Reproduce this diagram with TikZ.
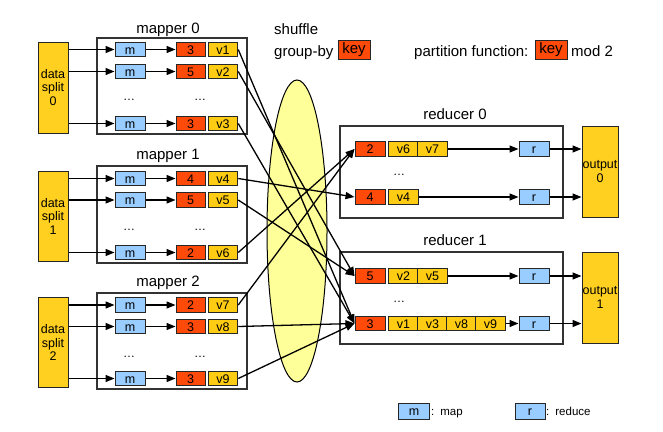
\documentclass[tikz,border=0pt]{standalone}
\usepackage{fontspec}
\setmainfont{Liberation Sans}
\usetikzlibrary{arrows.meta,shapes.geometric}
\definecolor{kred}{HTML}{FF4A0A}
\definecolor{vyel}{HTML}{FFCC14}
\definecolor{dyel}{HTML}{FFD020}
\definecolor{mblue}{HTML}{99CCFF}
\definecolor{ellyel}{HTML}{FFFF99}
\begin{document}
\begin{tikzpicture}[x=1pt,y=-1pt,
  cell/.style={draw=black!85,line width=1pt,minimum height=14.5pt,inner sep=0pt,
    text height=9pt,text depth=0pt,font=\fontsize{12.5}{13}\selectfont,anchor=center},
  mcell/.style={cell,fill=mblue,minimum width=30pt},
  kcell/.style={cell,fill=kred,minimum width=29pt},
  vcell/.style={cell,fill=vyel,minimum width=29.5pt},
  frame/.style={draw=black!80,line width=1.3pt,inner sep=0pt},
  src/.style={draw=black!85,fill=dyel,line width=1pt,inner sep=0pt,align=center,
    minimum width=30pt,font=\fontsize{12.5}{13.5}\selectfont},
  arr/.style={-{Triangle[length=9pt,width=7pt]},line width=1.3pt},
  lbl/.style={font=\fontsize{15}{18}\selectfont,inner sep=0pt},
  dots/.style={font=\fontsize{12}{12}\selectfont,inner sep=0pt,anchor=base},
  legtxt/.style={font=\fontsize{11.5}{12}\selectfont,inner sep=0pt,anchor=base west}
]
\useasboundingbox (0,0) rectangle (663,431);

% shuffle ellipse
\node[ellipse,draw=black,line width=1pt,fill=ellyel,minimum width=60pt,minimum height=302pt,inner sep=0pt] (shuf) at (297,231) {};

% header
\node[lbl,anchor=base west] (shuffle) at (274,34) {shuffle};
\node[lbl,anchor=base west] (groupby) at (274,56) {group-by};
\node[draw=black!85,line width=1pt,fill=kred,minimum width=32pt,minimum height=19pt,inner sep=0pt,
  font=\fontsize{15}{18}\selectfont,text height=10.5pt,text depth=3pt] (gbkey) at (354,49.5) {key};
\node[lbl,anchor=base west] (partf) at (414,56) {partition function:};
\node[draw=black!85,line width=1pt,fill=kred,minimum width=32pt,minimum height=19pt,inner sep=0pt,
  font=\fontsize{15}{18}\selectfont,text height=10.5pt,text depth=3pt] (pfkey) at (551,49.5) {key};
\node[lbl,anchor=base west] (mod) at (571,56) {mod 2};

% mapper frames and labels
\node[frame,minimum width=150pt,minimum height=96pt] (mp0) at (172,86) {};
\node[frame,minimum width=150pt,minimum height=97pt] (mp1) at (172,214.5) {};
\node[frame,minimum width=150pt,minimum height=96pt] (mp2) at (172,341) {};
\node[lbl,anchor=base] (mpl0) at (168,33) {mapper 0};
\node[lbl,anchor=base] (mpl1) at (168,159) {mapper 1};
\node[lbl,anchor=base] (mpl2) at (168,286) {mapper 2};

% data splits
\node[src,minimum height=91pt] (ds0) at (53,87.5) {data\\split\\0};
\node[src,minimum height=90pt] (ds1) at (53,216) {data\\split\\1};
\node[src,minimum height=90.5pt] (ds2) at (53,342.5) {data\\split\\2};

% mapper rows
\foreach \n/\y/\k/\d in {1/49.5/3/0,2/71.5/5/0,3/123.5/3/0,
                          4/178.5/4/1,5/200/5/1,6/252.5/2/1,
                          7/305/2/2,8/326.5/3/2,9/378.5/3/2}{
  \node[mcell] (m\n) at (130,\y) {m};
  \node[kcell] (k\n) at (190.5,\y) {\k};
  \node[vcell] (v\n) at (223,\y) {v\n};
  \draw[arr] (ds\d.east |- m\n.west) -- (m\n.west);
  \draw[arr] (m\n.east) -- (k\n.west);
}
\foreach \d/\y in {0/100,1/230,2/357}{
  \node[dots] (dm\d) at (129,\y) {\dots};
  \node[dots] (dk\d) at (200,\y) {\dots};
}

% reducer frames and labels
\node[frame,minimum width=223pt,minimum height=92pt] (rd0) at (451.5,172) {};
\node[frame,minimum width=223pt,minimum height=92pt] (rd1) at (451.5,298) {};
\node[lbl,anchor=base] (rdl0) at (455,119.5) {reducer 0};
\node[lbl,anchor=base] (rdl1) at (455,245) {reducer 1};

% outputs
\node[src,minimum width=36pt,minimum height=91pt] (out0) at (600,171.5) {output\\0};
\node[src,minimum width=36pt,minimum height=91pt] (out1) at (600,297.5) {output\\1};

% reducer rows
\node[kcell,minimum width=30pt] (rk1) at (370,149) {2};
\node[vcell] (ra6) at (403.5,149) {v6};
\node[vcell] (ra7) at (432.5,149) {v7};
\node[kcell,minimum width=30pt] (rk2) at (370,197) {4};
\node[vcell] (ra4) at (403.5,197) {v4};
\node[kcell,minimum width=30pt] (rk3) at (370,276) {5};
\node[vcell] (ra2) at (403.5,276) {v2};
\node[vcell] (ra5) at (432.5,276) {v5};
\node[kcell,minimum width=30pt] (rk4) at (370,323.5) {3};
\node[vcell] (ra1) at (403.5,323.5) {v1};
\node[vcell] (ra3) at (432.5,323.5) {v3};
\node[vcell] (ra8) at (461.5,323.5) {v8};
\node[vcell] (ra9) at (490.5,323.5) {v9};
\foreach \n/\y in {1/149,2/197,3/276,4/323.5}{
  \node[mcell] (rr\n) at (534,\y) {r};
}
\node[dots] (rdots0) at (399,175) {\dots};
\node[dots] (rdots1) at (399,302) {\dots};

\draw[arr] (ra7.east) -- (rr1.west);
\draw[arr] (ra4.east) -- (rr2.west);
\draw[arr] (ra5.east) -- (rr3.west);
\draw[arr] (ra9.east) -- (rr4.west);
\draw[arr] (rr1.east) -- (out0.west |- rr1.east);
\draw[arr] (rr2.east) -- (out0.west |- rr2.east);
\draw[arr] (rr3.east) -- (out1.west |- rr3.east);
\draw[arr] (rr4.east) -- (out1.west |- rr4.east);

% shuffle connectors
\draw[arr] (v1.east) -- (rk4.west);
\draw[arr] (v2.east) -- (rk3.west);
\draw[arr] (v3.east) -- (rk4.west);
\draw[arr] (v4.east) -- (rk2.west);
\draw[arr] (v5.east) -- (rk3.west);
\draw[arr] (v6.east) -- (rk1.west);
\draw[arr] (v7.east) -- (rk1.west);
\draw[arr] (v8.east) -- (rk4.west);
\draw[arr] (v9.east) -- (rk4.west);

% legend
\node[cell,fill=mblue,minimum width=31pt,minimum height=16pt] (legm) at (414,411) {m};
\node[legtxt] (legmt) at (431,415) {:\hspace{6pt}map};
\node[cell,fill=mblue,minimum width=30pt,minimum height=16pt] (legr) at (530,411) {r};
\node[legtxt] (legrt) at (546,415) {:\hspace{6pt}reduce};
\end{tikzpicture}
\end{document}
